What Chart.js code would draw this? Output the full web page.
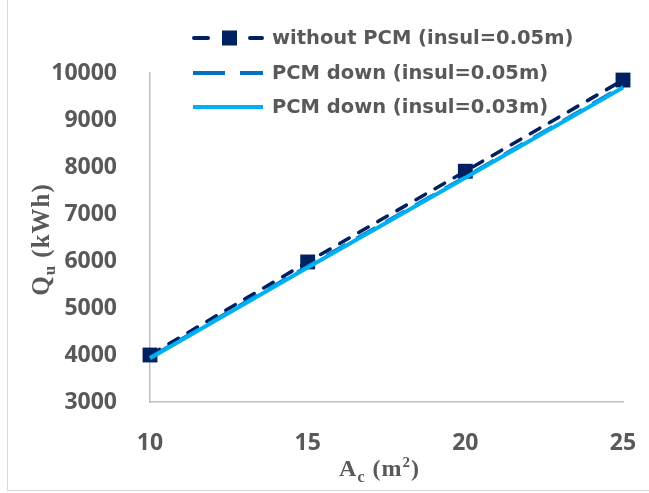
<!DOCTYPE html>
<html>
<head>
<meta charset="utf-8">
<script src="https://cdn.jsdelivr.net/npm/chart.js@4/dist/chart.umd.min.js"></script>
<style>
  html, body { margin: 0; padding: 0; background: #ffffff; }
  #wrap { width: 649px; height: 493px; position: relative; }
</style>
</head>
<body>
<div id="wrap"><canvas id="c" width="649" height="493"></canvas></div>
<script>
// Collector area A_c (m²) and useful heat Q_u (kWh)
const areas = [10, 15, 20, 25];
const withoutPcm005 = [4000, 5980, 7910, 9850];
const pcmDown005 = [3950, 5890, 7790, 9720];
const pcmDown003 = [3930, 5860, 7770, 9690];

const seriesNames = [
  'without PCM (insul=0.05m)',
  'PCM down (insul=0.05m)',
  'PCM down (insul=0.03m)'
];
const xTicks = [10, 15, 20, 25];
const yTicks = [3000, 4000, 5000, 6000, 7000, 8000, 9000, 10000];

const TEXT = '#595959';
const AXIS = '#BFBFBF';

const pts = vals => areas.map((a, i) => ({ x: a, y: vals[i] }));

// Legend drawn over the plot, top-left of the chart area
const legendPlugin = {
  id: 'overlayLegend',
  afterDraw(chart) {
    const ctx = chart.ctx;
    const ds = chart.data.datasets;
    const x0 = 193, x1 = 263, tx = 272;
    const rows = [38, 73, 107];
    ctx.save();
    ctx.lineCap = 'round';
    // row 1: short dashes with square marker
    ctx.strokeStyle = ds[0].borderColor; ctx.lineWidth = 4;
    ctx.beginPath();
    ctx.moveTo(x0 + 1, rows[0]); ctx.lineTo(208, rows[0]);
    ctx.moveTo(250, rows[0]); ctx.lineTo(x1 - 1, rows[0]);
    ctx.stroke();
    ctx.fillStyle = ds[0].pointBackgroundColor;
    ctx.fillRect(222, rows[0] - 7.5, 15, 15);
    // row 2: long dashes
    ctx.lineCap = 'butt';
    ctx.strokeStyle = ds[1].borderColor; ctx.lineWidth = 4;
    ctx.beginPath();
    ctx.moveTo(x0, rows[1]); ctx.lineTo(225, rows[1]);
    ctx.moveTo(240, rows[1]); ctx.lineTo(x1, rows[1]);
    ctx.stroke();
    // row 3: solid
    ctx.strokeStyle = ds[2].borderColor; ctx.lineWidth = 4;
    ctx.beginPath();
    ctx.moveTo(x0, rows[2]); ctx.lineTo(x1, rows[2]);
    ctx.stroke();
    ctx.fillStyle = TEXT;
    ctx.font = 'bold 19.5px "DejaVu Sans"';
    ctx.textAlign = 'left';
    ctx.textBaseline = 'middle';
    for (let i = 0; i < 3; i++) ctx.fillText(seriesNames[i], tx, rows[i] + 1);
    ctx.restore();
  }
};

// Axis titles with sub/superscripts, plus the outer frame
function drawPieces(ctx, pieces, startX, baseY) {
  let x = startX;
  for (const p of pieces) {
    ctx.font = 'bold ' + p.size + 'px "Liberation Serif"';
    ctx.fillText(p.t, x, baseY + (p.dy || 0));
    x += ctx.measureText(p.t).width + (p.gap || 0);
  }
}
function piecesWidth(ctx, pieces) {
  let w = 0;
  for (const p of pieces) {
    ctx.font = 'bold ' + p.size + 'px "Liberation Serif"';
    w += ctx.measureText(p.t).width + (p.gap || 0);
  }
  return w;
}
const titlePlugin = {
  id: 'axisTitles',
  afterDraw(chart) {
    const ctx = chart.ctx;
    ctx.save();
    ctx.fillStyle = TEXT;
    ctx.textAlign = 'left';
    ctx.textBaseline = 'alphabetic';
    // x title: A_c (m²)
    const xp = [
      { t: 'A', size: 24, gap: 1 },
      { t: 'c', size: 16, dy: 6, gap: 2 },
      { t: ' (', size: 24, gap: 1 },
      { t: 'm', size: 24, gap: 1 },
      { t: '2', size: 15, dy: -9, gap: 1 },
      { t: ')', size: 24 }
    ];
    const xw = piecesWidth(ctx, xp);
    drawPieces(ctx, xp, 379 - xw / 2, 476);
    // y title: Q_u (kWh), rotated
    const yp = [
      { t: 'Q', size: 25, gap: 1 },
      { t: 'u', size: 17, dy: 6, gap: 2 },
      { t: ' (', size: 25, gap: 1 },
      { t: 'k', size: 25, gap: 1 },
      { t: 'W', size: 25, gap: 1 },
      { t: 'h', size: 25, gap: 1 },
      { t: ')', size: 25 }
    ];
    const yw = piecesWidth(ctx, yp);
    ctx.translate(49, 240);
    ctx.rotate(-Math.PI / 2);
    drawPieces(ctx, yp, -yw / 2, 0);
    ctx.restore();
    // frame
    ctx.save();
    ctx.strokeStyle = '#D9D9D9';
    ctx.lineWidth = 1;
    ctx.strokeRect(7.5, -5, 700, 495.5);
    ctx.restore();
  }
};

new Chart(document.getElementById('c'), {
  type: 'line',
  data: {
    datasets: [
      {
        label: seriesNames[0],
        data: pts(withoutPcm005),
        borderColor: '#002060',
        backgroundColor: '#002060',
        pointBackgroundColor: '#002060',
        pointBorderColor: '#002060',
        borderWidth: 3.5,
        borderDash: [11, 11],
        borderCapStyle: 'round',
        pointStyle: 'rect',
        pointRadius: 10.5,
        pointBorderWidth: 0,
        clip: false,
        order: 2
      },
      {
        label: seriesNames[1],
        data: pts(pcmDown005),
        borderColor: '#0070C0',
        backgroundColor: '#0070C0',
        borderWidth: 3.5,
        borderDash: [22, 12],
        pointRadius: 0,
        clip: false,
        order: 1
      },
      {
        label: seriesNames[2],
        data: pts(pcmDown003),
        borderColor: '#00B0F0',
        backgroundColor: '#00B0F0',
        borderWidth: 4,
        pointRadius: 0,
        clip: false,
        order: 0
      }
    ]
  },
  options: {
    responsive: false,
    animation: false,
    events: [],
    layout: { padding: { left: 0, top: 73, right: 26, bottom: 0 } },
    plugins: {
      legend: { display: false },
      tooltip: { enabled: false }
    },
    scales: {
      x: {
        type: 'linear',
        min: xTicks[0],
        max: xTicks[xTicks.length - 1],
        afterBuildTicks: s => { s.ticks = xTicks.map(v => ({ value: v })); },
        afterFit: s => { s.height = 91; s.paddingLeft = 0; s.paddingRight = 0; },
        grid: { display: false },
        border: { display: true, color: AXIS, width: 1.5 },
        ticks: {
          color: TEXT,
          padding: 20,
          maxRotation: 0,
          font: { family: 'Open Sans', weight: 'bold', size: 23 }
        }
      },
      y: {
        type: 'linear',
        min: yTicks[0],
        max: yTicks[yTicks.length - 1],
        afterBuildTicks: s => { s.ticks = yTicks.map(v => ({ value: v })); },
        afterFit: s => { s.width = 150; s.paddingTop = 0; s.paddingBottom = 0; },
        grid: { display: false },
        border: { display: true, color: AXIS, width: 1.5 },
        ticks: {
          color: TEXT,
          padding: 25,
          font: { family: 'Open Sans', weight: 'bold', size: 23 },
          callback: v => String(v)
        }
      }
    }
  },
  plugins: [legendPlugin, titlePlugin]
});
</script>
</body>
</html>
